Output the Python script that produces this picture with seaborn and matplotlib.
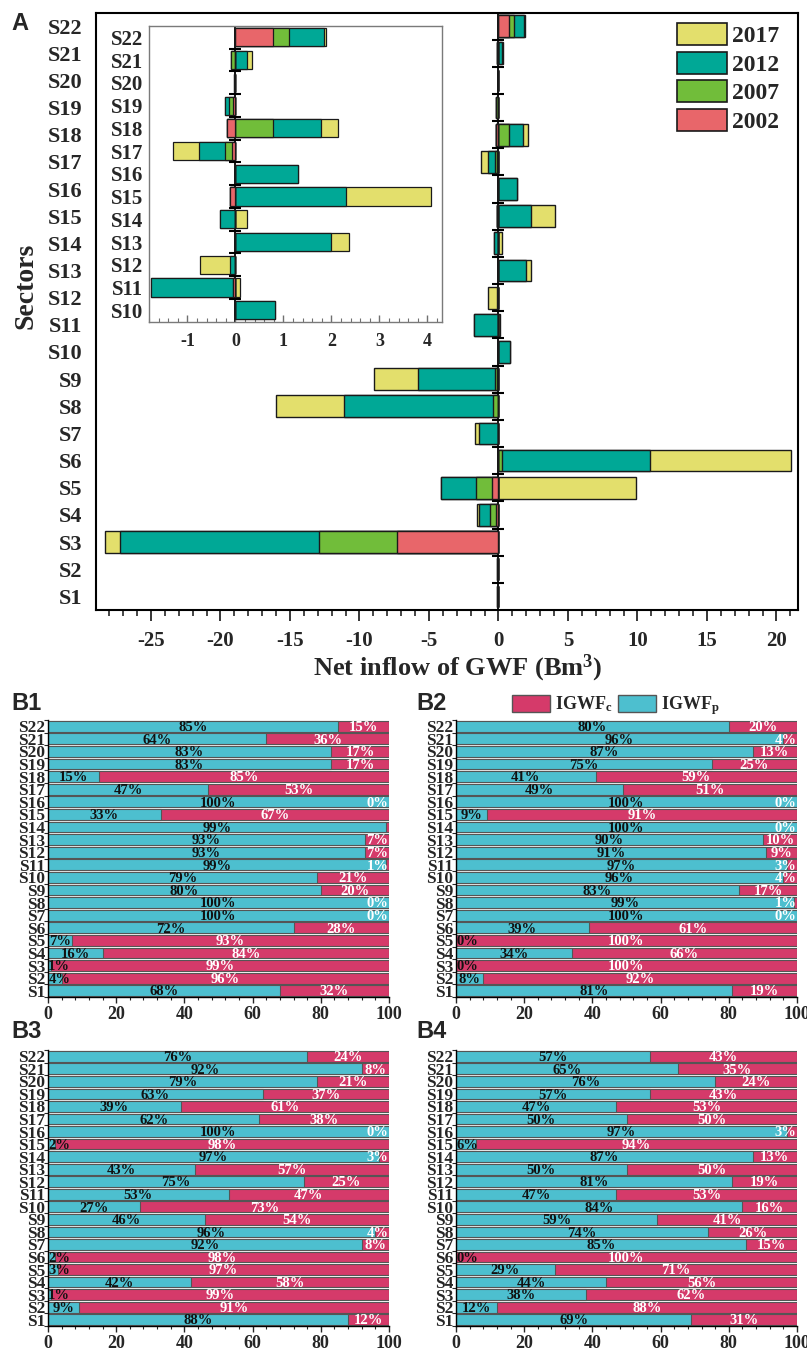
import numpy as np
import matplotlib
matplotlib.use('Agg')
import matplotlib.pyplot as plt
from matplotlib.patches import Patch
from matplotlib.ticker import MultipleLocator, FixedLocator
import seaborn as sns

# sectors S1..S22, chart shows S22 at the top
sectors = ['S%d' % i for i in range(1, 23)]
order = sectors[::-1]

# net inflow of GWF (Bm3) per year, S1..S22
years = ['2002', '2007', '2012', '2017']
gwf_2002 = [0, 0, -7.3, -0.17, -0.45, 0, 0, 0, -0.08, 0, -0.04,
            0, 0, 0, -0.11, 0, -0.08, -0.17, -0.04, 0, 0, 0.78]
gwf_2007 = [0, 0, -5.6, -0.43, -1.15, 0.24, 0, -0.38, -0.15, 0, 0,
            0, 0, 0, 0, 0, -0.14, 0.78, -0.10, 0, -0.09, 0.33]
gwf_2012 = [-0.12, -0.1, -14.3, -0.8, -2.55, 10.65, -1.43, -10.75, -5.58, 0.83, -1.72,
            -0.11, 2.0, -0.32, 2.31, 1.31, -0.53, 1.0, -0.07, -0.02, 0.24, 0.74]
gwf_2017 = [0, 0, -1.1, -0.12, 9.9, 10.17, -0.24, -4.85, -3.12, 0, 0.1,
            -0.62, 0.37, 0.24, 1.77, 0, -0.54, 0.35, 0, 0, 0.10, 0.03]
inset_sectors = sectors[9:]   # S10..S22

# IGWFp share (%) per sector, S1..S22 ; IGWFc = 100 - IGWFp
igwfp_b1 = [68, 4, 1, 16, 7, 72, 100, 100, 80, 79, 99, 93, 93, 99, 33, 100, 47, 15, 83, 83, 64, 85]
igwfp_b2 = [81, 8, 0, 34, 0, 39, 100, 99, 83, 96, 97, 91, 90, 100, 9, 100, 49, 41, 75, 87, 96, 80]
igwfp_b3 = [88, 9, 1, 42, 3, 2, 92, 96, 46, 27, 53, 75, 43, 97, 2, 100, 62, 39, 63, 79, 92, 76]
igwfp_b4 = [69, 12, 38, 44, 29, 0, 85, 74, 59, 84, 47, 81, 50, 87, 6, 97, 50, 47, 57, 76, 65, 57]
hidden_c_b1 = ['S14']

year_colors = ['#E8666A', '#71BD3A', '#00A896', '#E3DF6C']
c_cyan = '#4DBFCF'
c_mag = '#D53A6A'

sns.set_style('white')
plt.rcParams['font.family'] = ['Liberation Serif', 'DejaVu Serif']
plt.rcParams['font.weight'] = 'bold'
plt.rcParams['axes.unicode_minus'] = False
plt.rcParams['mathtext.fontset'] = 'custom'
plt.rcParams['mathtext.rm'] = 'Liberation Serif:bold'
plt.rcParams['mathtext.it'] = 'Liberation Serif:bold'
plt.rcParams['mathtext.bf'] = 'Liberation Serif:bold'
plt.rcParams['mathtext.default'] = 'rm'

W, H = 807, 1351
fig = plt.figure(figsize=(W / 100, H / 100), dpi=100)
fig.patch.set_facecolor('white')


def px_axes(left, top, right, bottom):
    return fig.add_axes([left / W, 1 - bottom / H, (right - left) / W, (bottom - top) / H])


def diverging_stack(ax, names, lw):
    idx = [sectors.index(s) for s in names]
    vals = np.array([gwf_2002, gwf_2007, gwf_2012, gwf_2017])[:, idx]
    pos = np.cumsum(np.clip(vals, 0, None), axis=0)
    neg = np.cumsum(np.clip(vals, None, 0), axis=0)
    ordr = names[::-1]
    for k in reversed(range(4)):
        for cum in (pos[k], neg[k]):
            sns.barplot(x=cum, y=names, order=ordr, orient='h', color=year_colors[k],
                        edgecolor='#1a1a1a', linewidth=lw, width=0.8, saturation=1,
                        errorbar=None, ax=ax)
    n = len(names)
    ax.axvline(0, color='k', lw=1.3, zorder=0.5)
    ax.plot(np.zeros(n - 1), np.arange(n - 1) + 0.5, ls='none', marker='_',
            ms=8, mew=1.5, color='k', zorder=5)
    ax.set_ylim(n - 0.5, -0.5)
    ax.set_xlabel('')
    ax.set_ylabel('')


# ---------------- panel A ----------------
axA = px_axes(96, 12.5, 798, 610)
diverging_stack(axA, sectors, 1.0)
axA.set_xlim(-28.95, 21.55)
axA.xaxis.set_major_locator(MultipleLocator(5))
axA.xaxis.set_minor_locator(MultipleLocator(1))
axA.tick_params(axis='x', which='major', direction='out', length=8, width=1.3, labelsize=15, pad=7)
axA.tick_params(axis='x', which='minor', direction='out', length=4, width=1.2)
axA.tick_params(axis='x', bottom=True, which='both')
axA.tick_params(axis='y', length=0, labelsize=16, pad=10)
for sp in axA.spines.values():
    sp.set_color('k')
    sp.set_linewidth(1.5)

legend_handles = [Patch(facecolor=year_colors[k], edgecolor='#1a1a1a', lw=1.2, label=years[k])
                  for k in (3, 2, 1, 0)]
fig.legend(handles=legend_handles, loc='upper left', bbox_to_anchor=(677 / W, 1 - 23 / H),
           frameon=False, fontsize=17, handlelength=2.1, handleheight=1.05,
           labelspacing=0.2, handletextpad=0.25, borderpad=0, borderaxespad=0)

fig.text(26 / W, 1 - 286 / H, 'Sectors', rotation=90, ha='center', va='center', fontsize=20)
fig.text(458 / W, 1 - 668 / H, 'Net inflow of GWF (Bm$^{3}$)', ha='center', va='center', fontsize=19)
fig.text(20 / W, 1 - 23 / H, 'A', ha='center', va='center', fontsize=17,
         family='Liberation Sans', weight='bold')

# inset, zoom on S10..S22
axI = px_axes(149, 26, 442.3, 321.7)
diverging_stack(axI, inset_sectors, 0.9)
axI.set_xlim(-1.8, 4.31)
axI.xaxis.set_major_locator(MultipleLocator(1))
axI.xaxis.set_minor_locator(MultipleLocator(0.2))
axI.tick_params(axis='x', which='major', direction='in', length=5, width=1, color='#707070',
                labelsize=13, pad=8)
axI.tick_params(axis='x', which='minor', direction='in', length=3, width=0.8, color='#707070')
axI.tick_params(axis='x', bottom=True, which='both')
axI.tick_params(axis='y', length=0, labelsize=15, pad=4)
for sp in axI.spines.values():
    sp.set_color('#7a7a7a')
    sp.set_linewidth(1.0)


# ---------------- panels B1..B4 ----------------
def share_panel(ax, p, hidden):
    p = np.array(p)
    c = 100 - p
    sns.barplot(x=np.full(len(sectors), 100), y=sectors, order=order, orient='h', color=c_mag,
                edgecolor='#555555', linewidth=0.8, width=0.86, saturation=1, errorbar=None, ax=ax)
    sns.barplot(x=p, y=sectors, order=order, orient='h', color=c_cyan,
                edgecolor='#555555', linewidth=0.8, width=0.86, saturation=1, errorbar=None, ax=ax)
    for i, s in enumerate(sectors):
        yy = order.index(s) + 0.1
        ax.text(max(p[i] / 2, 3.3), yy, '%d%%' % p[i], ha='center', va='center',
                color='#111111', fontsize=10.5)
        if s not in hidden:
            ax.text(min(p[i] + c[i] / 2, 96.6), yy, '%d%%' % c[i], ha='center', va='center',
                    color='white', fontsize=10.5)
    ax.set_xlim(0, 100)
    ax.set_ylim(len(sectors) - 0.5, -0.5)
    ax.set_xlabel('')
    ax.set_ylabel('')
    ax.xaxis.set_major_locator(MultipleLocator(20))
    ax.xaxis.set_minor_locator(MultipleLocator(4))
    ax.tick_params(axis='x', which='major', direction='out', length=4, width=1, labelsize=13, pad=2.5)
    ax.tick_params(axis='x', which='minor', direction='out', length=2.5, width=0.8)
    ax.tick_params(axis='x', bottom=True, which='both')
    ax.yaxis.set_minor_locator(FixedLocator(np.arange(-0.5, len(sectors), 1)))
    ax.tick_params(axis='y', which='major', length=0, labelsize=12.5, pad=2)
    ax.tick_params(axis='y', which='minor', left=True, direction='out', length=3, width=0.8)
    for side in ('top', 'right'):
        ax.spines[side].set_visible(False)
    for side in ('left', 'bottom'):
        ax.spines[side].set_color('k')
        ax.spines[side].set_linewidth(1.0)


panels = [
    ('B1', igwfp_b1, hidden_c_b1, (48, 720, 389, 997), (27, 703)),
    ('B2', igwfp_b2, [], (456, 720, 797, 997), (432, 703)),
    ('B3', igwfp_b3, [], (48, 1050, 389, 1326), (27, 1032)),
    ('B4', igwfp_b4, [], (456, 1050, 797, 1326), (432, 1032)),
]
for name, p, hidden, box, lab in panels:
    ax = px_axes(*box)
    share_panel(ax, p, hidden)
    fig.text(lab[0] / W, 1 - lab[1] / H, name, ha='center', va='center', fontsize=17,
             family='Liberation Sans', weight='bold')

share_handles = [Patch(facecolor=c_mag, edgecolor='#555555', lw=1, label='IGWF$_{c}$'),
                 Patch(facecolor=c_cyan, edgecolor='#555555', lw=1, label='IGWF$_{p}$')]
fig.legend(handles=share_handles, loc='center', bbox_to_anchor=(616 / W, 1 - 706 / H), ncol=2,
           frameon=False, fontsize=13, handlelength=2.1, handleheight=1.0,
           handletextpad=0.3, columnspacing=0.3, borderpad=0, borderaxespad=0)

fig.savefig('out.png', dpi=100, facecolor='white')
